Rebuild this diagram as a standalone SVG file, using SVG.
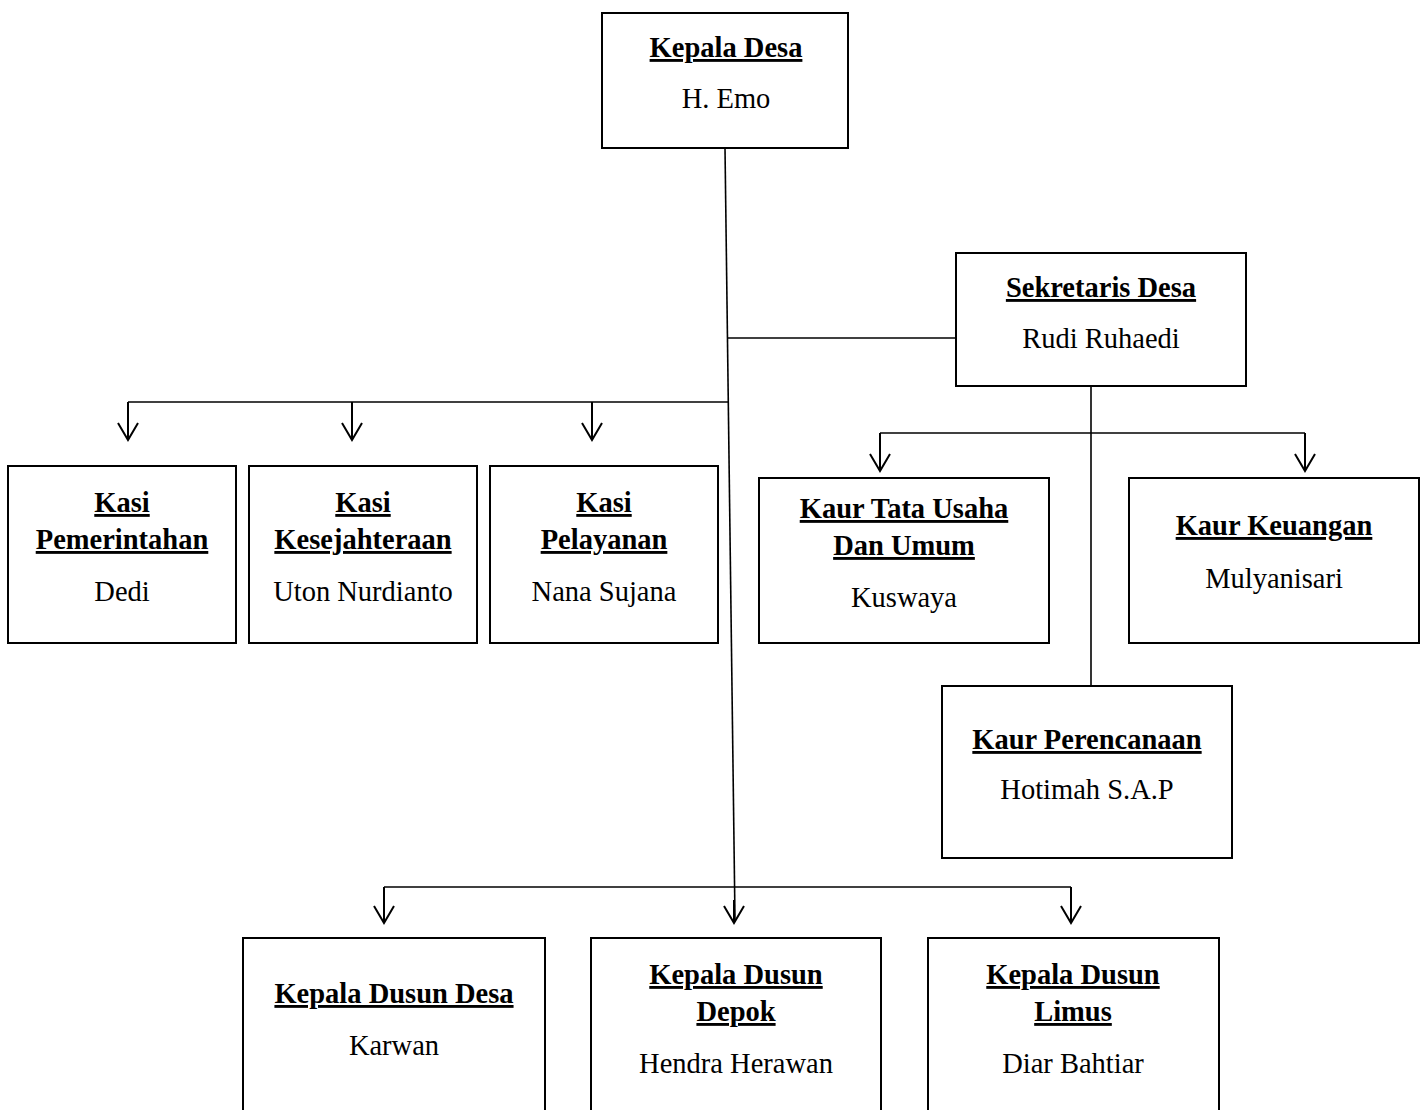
<svg xmlns="http://www.w3.org/2000/svg" width="1425" height="1110" viewBox="0 0 1425 1110">
<style>
.box{fill:#fff;stroke:#000;stroke-width:2}
.t{font-family:"Liberation Serif","Times New Roman",serif;font-size:28.5px;text-anchor:middle;fill:#000}
.b{font-weight:bold;text-decoration:underline}
.c{fill:none;stroke:#000;stroke-width:1.6}
.a{fill:none;stroke:#000;stroke-width:2}
</style>
<defs>
<marker id="v" viewBox="-19 -12 21 24" markerUnits="userSpaceOnUse" markerWidth="21" markerHeight="24" refX="0" refY="0" orient="auto">
<path d="M-17,-10 L0,0 L-17,10" fill="none" stroke="#000" stroke-width="2"/>
</marker>
</defs>
<rect width="1425" height="1110" fill="#fff"/>
<g id="connectors">
<line class="c" x1="725" y1="148" x2="735" y2="920"/>
<line class="c" x1="728" y1="338" x2="956" y2="338"/>
<line class="c" x1="128" y1="402" x2="728" y2="402"/>
<line class="a" x1="128" y1="402" x2="128" y2="440" marker-end="url(#v)"/>
<line class="a" x1="352" y1="402" x2="352" y2="440" marker-end="url(#v)"/>
<line class="a" x1="592" y1="402" x2="592" y2="440" marker-end="url(#v)"/>
<line class="c" x1="1091" y1="386" x2="1091" y2="686"/>
<line class="c" x1="880" y1="433" x2="1305" y2="433"/>
<line class="a" x1="880" y1="433" x2="880" y2="471" marker-end="url(#v)"/>
<line class="a" x1="1305" y1="433" x2="1305" y2="471" marker-end="url(#v)"/>
<line class="c" x1="384" y1="887" x2="1071" y2="887"/>
<line class="a" x1="384" y1="887" x2="384" y2="923" marker-end="url(#v)"/>
<line class="a" x1="734" y1="900" x2="734" y2="923" marker-end="url(#v)"/>
<line class="a" x1="1071" y1="887" x2="1071" y2="923" marker-end="url(#v)"/>
</g>
<g id="kepala-desa">
<rect class="box" x="602" y="13" width="246" height="135"/>
<text class="t b" x="726" y="57">Kepala Desa</text>
<text class="t" x="726" y="108">H. Emo</text>
</g>
<g id="sekretaris-desa">
<rect class="box" x="956" y="253" width="290" height="133"/>
<text class="t b" x="1101" y="297">Sekretaris Desa</text>
<text class="t" x="1101" y="348">Rudi Ruhaedi</text>
</g>
<g id="kasi-pemerintahan">
<rect class="box" x="8" y="466" width="228" height="177"/>
<text class="t b" x="122" y="512">Kasi</text>
<text class="t b" x="122" y="549">Pemerintahan</text>
<text class="t" x="122" y="601">Dedi</text>
</g>
<g id="kasi-kesejahteraan">
<rect class="box" x="249" y="466" width="228" height="177"/>
<text class="t b" x="363" y="512">Kasi</text>
<text class="t b" x="363" y="549">Kesejahteraan</text>
<text class="t" x="363" y="601">Uton Nurdianto</text>
</g>
<g id="kasi-pelayanan">
<rect class="box" x="490" y="466" width="228" height="177"/>
<text class="t b" x="604" y="512">Kasi</text>
<text class="t b" x="604" y="549">Pelayanan</text>
<text class="t" x="604" y="601">Nana Sujana</text>
</g>
<g id="kaur-tata-usaha">
<rect class="box" x="759" y="478" width="290" height="165"/>
<text class="t b" x="904" y="518">Kaur Tata Usaha</text>
<text class="t b" x="904" y="555">Dan Umum</text>
<text class="t" x="904" y="607">Kuswaya</text>
</g>
<g id="kaur-keuangan">
<rect class="box" x="1129" y="478" width="290" height="165"/>
<text class="t b" x="1274" y="535">Kaur Keuangan</text>
<text class="t" x="1274" y="588">Mulyanisari</text>
</g>
<g id="kaur-perencanaan">
<rect class="box" x="942" y="686" width="290" height="172"/>
<text class="t b" x="1087" y="749">Kaur Perencanaan</text>
<text class="t" x="1087" y="799">Hotimah S.A.P</text>
</g>
<g id="kepala-dusun-desa">
<rect class="box" x="243" y="938" width="302" height="190"/>
<text class="t b" x="394" y="1003">Kepala Dusun Desa</text>
<text class="t" x="394" y="1055">Karwan</text>
</g>
<g id="kepala-dusun-depok">
<rect class="box" x="591" y="938" width="290" height="190"/>
<text class="t b" x="736" y="984">Kepala Dusun</text>
<text class="t b" x="736" y="1021">Depok</text>
<text class="t" x="736" y="1073">Hendra Herawan</text>
</g>
<g id="kepala-dusun-limus">
<rect class="box" x="928" y="938" width="291" height="190"/>
<text class="t b" x="1073" y="984">Kepala Dusun</text>
<text class="t b" x="1073" y="1021">Limus</text>
<text class="t" x="1073" y="1073">Diar Bahtiar</text>
</g>
</svg>
